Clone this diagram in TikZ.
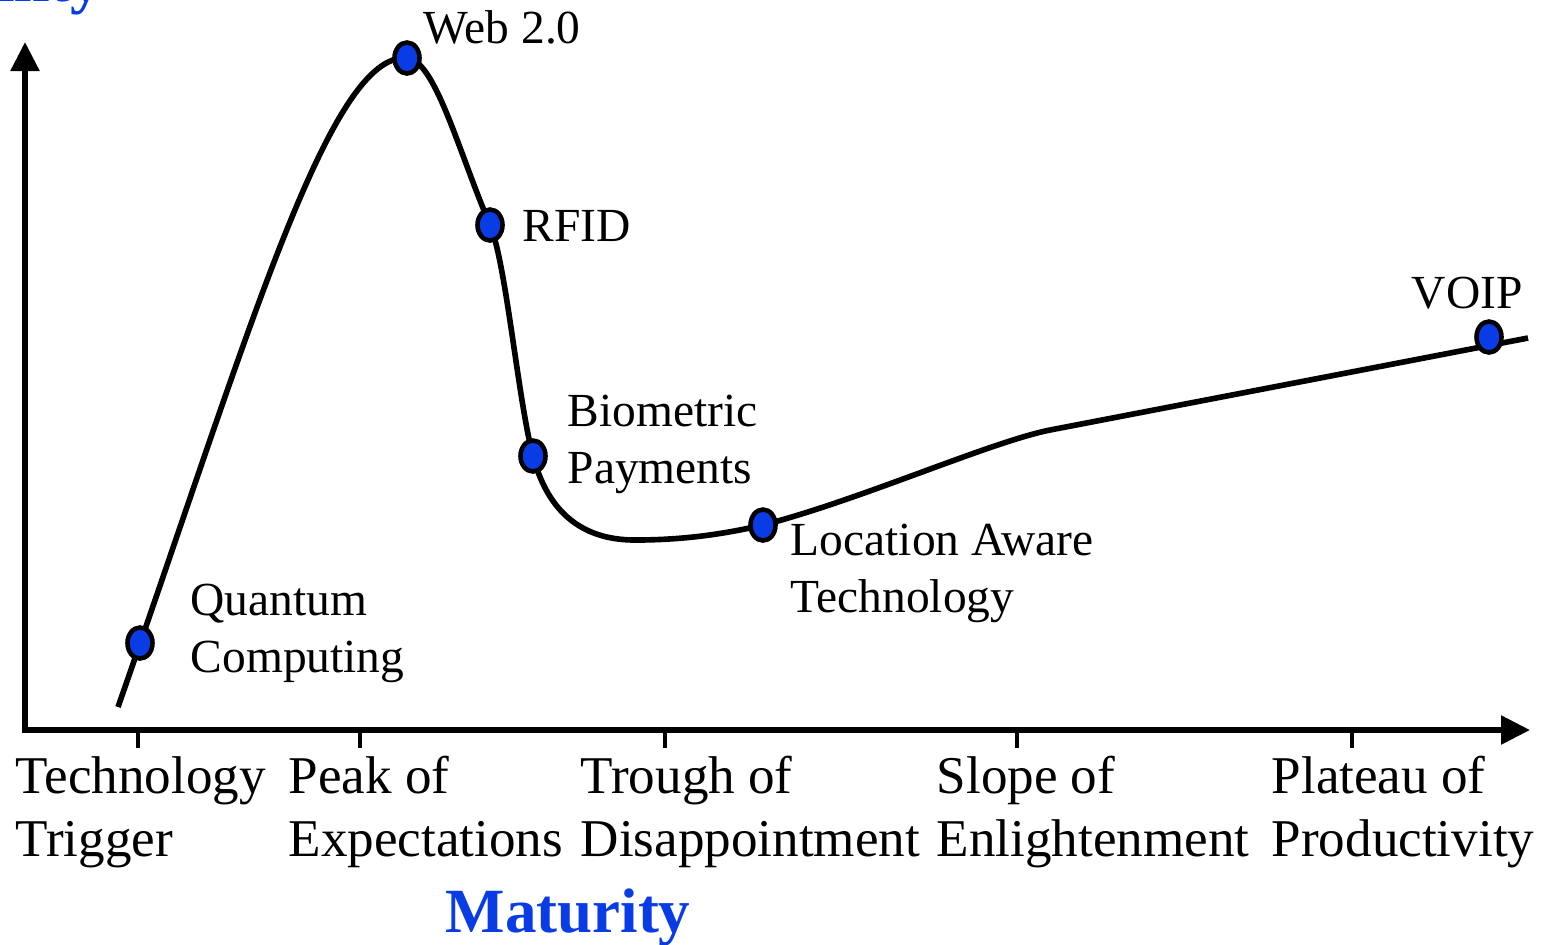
\documentclass[tikz,border=0pt]{standalone}
\usepackage{fontspec}
\setmainfont{Liberation Serif}
\usetikzlibrary{arrows.meta}
\usetikzlibrary{shapes.geometric}
\definecolor{hypeblue}{RGB}{10,60,230}

\begin{document}
\begin{tikzpicture}[x=0.01cm,y=-0.01cm]
		\tikzset{dot/.style = {shape=ellipse,draw,fill=hypeblue,line width=1.3pt,minimum width=0.25cm,minimum height=0.31cm,inner sep=0pt}}
		\tikzset{axis/.style = {line width=1.6pt,{Triangle[length=0.29cm,width=0.28cm]}-{Triangle[length=0.29cm,width=0.28cm]}}}
		\tikzset{phase/.style = {anchor=base west,align=left,inner sep=0pt,font=\fontsize{15.1}{17.9}\selectfont}}
		\tikzset{tech/.style = {anchor=base west,align=left,inner sep=0pt,font=\fontsize{13.5}{16.2}\selectfont}}
		\tikzset{title/.style = {inner sep=0pt,text=hypeblue,font=\fontsize{17.9}{20}\selectfont\bfseries}}
		\useasboundingbox (0,0) rectangle (1546,944);
		% axes
		\coordinate (ytip) at (25,42);
		\coordinate (origin) at (25,730);
		\coordinate (xtip) at (1530,730);
		\draw[axis] (ytip) -- (origin) -- (xtip);
		\foreach \x in {138,360,665,1017,1352}
			\draw[line width=1.3pt] (\x,730) -- (\x,748);
		\node[title,anchor=base east] (visibility) at (103,1) {Visibility};
		\node[title,anchor=base west] (maturity) at (445,932) {Maturity};
		% phases (base = last line)
		\node[phase] (trigger) at (15,856) {Technology\\Trigger};
		\node[phase] (peak) at (288,856) {Peak of\\Expectations};
		\node[phase] (trough) at (580,856) {Trough of\\Disappointment};
		\node[phase] (slope) at (936,856) {Slope of\\Enlightenment};
		\node[phase] (plateau) at (1271,856) {Plateau of\\Productivity};
		% curve
		\draw[line width=1.6pt] (118,707) .. controls (250,330) and (330,52) .. (407,58)
			.. controls (435,60) and (458,150) .. (490,225)
			.. controls (506,262) and (518,400) .. (533,456)
			.. controls (550,520) and (590,540) .. (635,540)
			.. controls (680,540) and (720,535) .. (763,525)
			.. controls (860,500) and (990,442) .. (1050,430)
			-- (1528,338);
		% technologies
		\node[dot] (quantum) at (140,643) {};
		\node[dot] (web) at (407,58) {};
		\node[dot] (rfid) at (490,225) {};
		\node[dot] (biometric) at (533,456) {};
		\node[dot] (location) at (763,525) {};
		\node[dot] (voip) at (1489,337) {};
		\node[tech] (quantumtext) at (190,672) {Quantum\\Computing};
		\node[tech] (webtext) at (423,43) {Web 2.0};
		\node[tech] (rfidtext) at (522,241) {RFID};
		\node[tech] (biometrictext) at (567,483) {Biometric\\Payments};
		\node[tech] (locationtext) at (790,612) {Location Aware\\Technology};
		\node[tech] (voiptext) at (1411,308) {VOIP};
\end{tikzpicture}
\end{document}
